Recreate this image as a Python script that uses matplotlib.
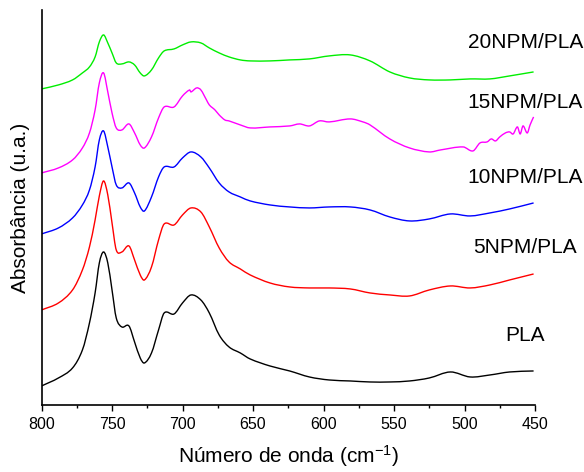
import matplotlib
matplotlib.use("Agg")
import matplotlib.pyplot as plt
from matplotlib.path import Path
from matplotlib.patches import PathPatch
from matplotlib.ticker import MultipleLocator

plt.rcParams['font.family'] = ['Liberation Sans', 'DejaVu Sans']
plt.rcParams['mathtext.default'] = 'regular'

# Wavenumber grid (cm^-1)
wavenumber = [800, 788, 778, 771, 766, 762, 759, 756, 753, 750, 747, 743, 738, 734, 730,
              727, 722, 717, 713, 706, 700, 694, 687, 681, 674, 667, 659, 652, 638, 624,
              610, 596, 581, 567, 553, 539, 525, 510, 496, 482, 468, 451]

# Offset-stacked absorbance (a.u.)
pla = [0.19, 0.27, 0.37, 0.55, 0.82, 1.12, 1.42, 1.53, 1.42, 1.15, 0.87, 0.78, 0.79, 0.63, 0.47,
       0.42, 0.52, 0.75, 0.92, 0.91, 1.02, 1.10, 1.05, 0.92, 0.70, 0.58, 0.52, 0.46, 0.39, 0.34,
       0.28, 0.25, 0.24, 0.23, 0.23, 0.24, 0.27, 0.33, 0.28, 0.30, 0.33, 0.34]

npm5 = [0.95, 1.02, 1.15, 1.35, 1.58, 1.85, 2.09, 2.24, 2.10, 1.82, 1.55, 1.53, 1.59, 1.45, 1.30,
        1.25, 1.38, 1.65, 1.81, 1.80, 1.90, 1.97, 1.93, 1.78, 1.57, 1.43, 1.36, 1.30, 1.22, 1.18,
        1.17, 1.17, 1.16, 1.12, 1.10, 1.09, 1.15, 1.19, 1.17, 1.20, 1.25, 1.31]

npm10 = [1.71, 1.77, 1.87, 2.00, 2.15, 2.38, 2.65, 2.74, 2.58, 2.38, 2.20, 2.17, 2.22, 2.12, 1.98,
         1.94, 2.08, 2.28, 2.38, 2.38, 2.47, 2.53, 2.48, 2.37, 2.22, 2.13, 2.08, 2.04, 2.00, 1.98,
         1.97, 1.98, 1.98, 1.95, 1.88, 1.84, 1.86, 1.91, 1.89, 1.92, 1.96, 2.02]

npm20 = [3.16, 3.20, 3.25, 3.32, 3.38, 3.48, 3.63, 3.70, 3.62, 3.52, 3.42, 3.41, 3.43, 3.40, 3.32,
         3.29, 3.35, 3.47, 3.54, 3.56, 3.60, 3.63, 3.62, 3.57, 3.52, 3.48, 3.45, 3.44, 3.44, 3.45,
         3.46, 3.49, 3.50, 3.44, 3.33, 3.27, 3.25, 3.25, 3.26, 3.26, 3.29, 3.33]

# 15NPM/PLA has a noisier trace, read on its own grid
wavenumber_15 = [800, 788, 778, 771, 766, 762, 759, 756, 753, 750, 747, 743, 738, 734, 730,
                 727, 722, 717, 713, 706, 700, 695, 694, 690, 687, 683, 681, 677, 674, 670,
                 667, 659, 652, 638, 624, 617, 610, 603, 596, 581, 572, 567, 553, 539, 525,
                 517, 501, 494, 489, 484, 481, 478, 475, 471, 468, 465.5, 462.5, 460.5, 458.5,
                 455.5, 453.5, 451]
npm15 = [2.32, 2.37, 2.45, 2.57, 2.72, 2.95, 3.22, 3.32, 3.13, 2.92, 2.77, 2.75, 2.81, 2.72, 2.60,
         2.57, 2.68, 2.87, 2.98, 2.98, 3.09, 3.15, 3.13, 3.17, 3.15, 3.05, 3.00, 2.95, 2.90, 2.85,
         2.84, 2.80, 2.77, 2.78, 2.79, 2.81, 2.79, 2.84, 2.83, 2.86, 2.83, 2.80, 2.66, 2.57, 2.53,
         2.55, 2.58, 2.54, 2.62, 2.63, 2.66, 2.64, 2.68, 2.72, 2.73, 2.71, 2.78, 2.71, 2.79,
         2.72, 2.80, 2.88]

series_labels = ["PLA", "5NPM/PLA", "10NPM/PLA", "15NPM/PLA", "20NPM/PLA"]
series_colors = ["#000000", "#ff0000", "#0000ff", "#ff00ff", "#00ee00"]
label_y = [0.69, 1.57, 2.275, 3.02, 3.62]
label_x = 457

xticks = [800, 750, 700, 650, 600, 550, 500, 450]


def smooth_path(x, y):
    """Cubic Hermite (Bezier) path through the read points, drawn by matplotlib."""
    n = len(x)
    m = []
    for i in range(n):
        if i == 0:
            m.append((y[1] - y[0]) / (x[1] - x[0]))
        elif i == n - 1:
            m.append((y[-1] - y[-2]) / (x[-1] - x[-2]))
        else:
            m.append((y[i + 1] - y[i - 1]) / (x[i + 1] - x[i - 1]))
    verts = [(x[0], y[0])]
    codes = [Path.MOVETO]
    for i in range(n - 1):
        h = x[i + 1] - x[i]
        verts += [(x[i] + h / 3, y[i] + m[i] * h / 3),
                  (x[i + 1] - h / 3, y[i + 1] - m[i + 1] * h / 3),
                  (x[i + 1], y[i + 1])]
        codes += [Path.CURVE4] * 3
    return Path(verts, codes)


fig = plt.figure(figsize=(5.84, 4.72), dpi=100)
ax = fig.add_axes([0.0711, 0.142, 0.845, 0.837])

data = [(wavenumber, pla), (wavenumber, npm5), (wavenumber, npm10),
        (wavenumber_15, npm15), (wavenumber, npm20)]
for (x, y), c in zip(data, series_colors):
    ax.add_patch(PathPatch(smooth_path(x, y), facecolor='none', edgecolor=c, lw=1.0))

for lab, ly in zip(series_labels, label_y):
    ax.text(label_x, ly, lab, ha='center', va='center', fontsize=15)

ax.set_xlim(800, 450)
ax.set_ylim(0, 3.95)
ax.set_xticks(xticks)
ax.xaxis.set_minor_locator(MultipleLocator(25))
ax.set_yticks([])
ax.tick_params(axis='x', which='major', direction='out', length=4, width=1.0, labelsize=11.5, pad=5)
ax.tick_params(axis='x', which='minor', direction='out', length=2.5, width=1.0)
for s in ['top', 'right']:
    ax.spines[s].set_visible(False)
for s in ['left', 'bottom']:
    ax.spines[s].set_linewidth(1.2)

ax.set_xlabel("Número de onda (cm$^{-1}$)", fontsize=15, labelpad=8)
ax.set_ylabel("Absorbância (u.a.)", fontsize=15, labelpad=8)

fig.savefig("out.png", dpi=100)
